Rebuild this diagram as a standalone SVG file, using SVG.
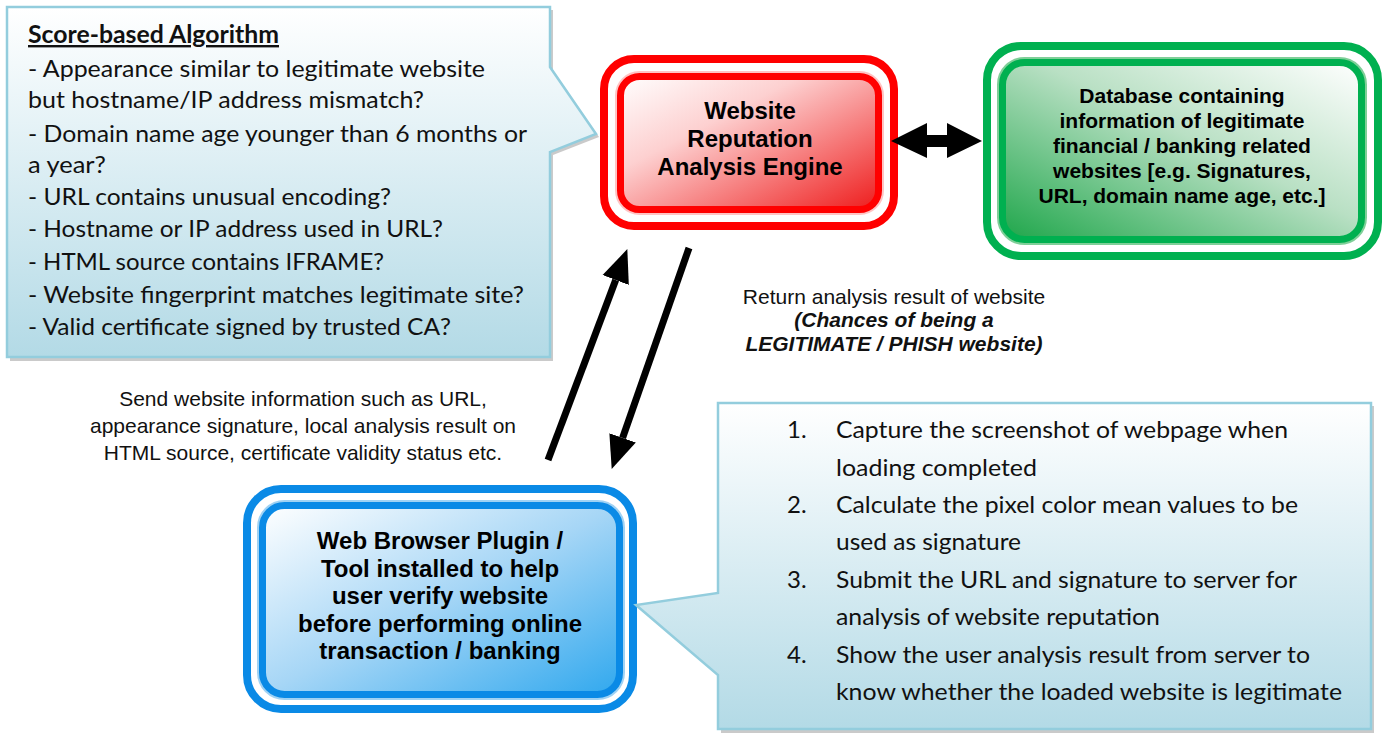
<svg xmlns="http://www.w3.org/2000/svg" width="1388" height="733" viewBox="0 0 1388 733">
<style>
.call{font-family:Lato,"Open Sans",sans-serif;font-size:24px;fill:#111}
.node{font-family:"Liberation Sans",Arial,sans-serif;font-weight:bold;fill:#000;text-anchor:middle}
.lbl{font-family:"Liberation Sans",Arial,sans-serif;font-size:21px;fill:#111;text-anchor:middle}
.bi{font-weight:bold;font-style:italic}
.cbox{stroke:#93cddd;stroke-width:2.5}
.shadow{fill:#8a8a8a;opacity:0.45}
</style>
<defs>
<linearGradient id="gCall" x1="0" y1="0" x2="0" y2="1">
<stop offset="0" stop-color="#ffffff"/><stop offset="1" stop-color="#b3dae6"/>
</linearGradient>
<linearGradient id="gRed" x1="0" y1="0" x2="1" y2="1">
<stop offset="0" stop-color="#ffffff"/><stop offset="0.35" stop-color="#fdd0d0"/><stop offset="1" stop-color="#ee1c1c"/>
</linearGradient>
<linearGradient id="gGreen" x1="0" y1="1" x2="1" y2="0">
<stop offset="0" stop-color="#1ea64a"/><stop offset="0.55" stop-color="#b9e0c4"/><stop offset="1" stop-color="#ffffff"/>
</linearGradient>
<linearGradient id="gBlue" x1="0" y1="0" x2="1" y2="1">
<stop offset="0" stop-color="#ffffff"/><stop offset="0.5" stop-color="#a6d6f6"/><stop offset="1" stop-color="#30a8ee"/>
</linearGradient>
<marker id="ah" markerUnits="userSpaceOnUse" markerWidth="34" markerHeight="30" refX="0" refY="15" orient="auto">
<path d="M0,1 L33,15 L0,29 z" fill="#000"/>
</marker>
</defs>

<g id="score-callout">
<path class="shadow" d="M10,10 H553 V71 L599,137 L553,155 V361 H10 Z"/>
<path class="cbox" fill="url(#gCall)" d="M7,7 H550 V67 L596,134 L550,152 V357 H7 Z"/>
<text class="call" x="28" y="43" font-weight="bold" text-decoration="underline" textLength="251" lengthAdjust="spacingAndGlyphs">Score-based Algorithm</text>
<text class="call" x="28" y="77" textLength="457" lengthAdjust="spacingAndGlyphs">- Appearance similar to legitimate website</text>
<text class="call" x="28" y="108" textLength="396" lengthAdjust="spacingAndGlyphs">but hostname/IP address mismatch?</text>
<text class="call" x="28" y="142" textLength="499" lengthAdjust="spacingAndGlyphs">- Domain name age younger than 6 months or</text>
<text class="call" x="28" y="173" textLength="78" lengthAdjust="spacingAndGlyphs">a year?</text>
<text class="call" x="28" y="205" textLength="363" lengthAdjust="spacingAndGlyphs">- URL contains unusual encoding?</text>
<text class="call" x="28" y="237" textLength="415" lengthAdjust="spacingAndGlyphs">- Hostname or IP address used in URL?</text>
<text class="call" x="28" y="270" textLength="356" lengthAdjust="spacingAndGlyphs">- HTML source contains IFRAME?</text>
<text class="call" x="28" y="303" textLength="496" lengthAdjust="spacingAndGlyphs">- Website fingerprint matches legitimate site?</text>
<text class="call" x="28" y="335" textLength="423" lengthAdjust="spacingAndGlyphs">- Valid certificate signed by trusted CA?</text>
</g>

<g id="engine">
<rect x="604" y="59" width="290" height="167" rx="30" fill="#fff" stroke="#ff0000" stroke-width="8"/>
<rect x="620.5" y="76.5" width="258" height="133" rx="19" fill="url(#gRed)" stroke="#ffc4c4" stroke-width="11"/>
<rect x="620.5" y="76.5" width="258" height="133" rx="19" fill="url(#gRed)" stroke="#ff0000" stroke-width="7"/>
<text class="node" font-size="24" x="750" y="119">Website</text>
<text class="node" font-size="24" x="750" y="147">Reputation</text>
<text class="node" font-size="24" x="750" y="175">Analysis Engine</text>
</g>

<g id="database">
<rect x="987" y="46" width="391" height="210" rx="34" fill="#fff" stroke="#00b050" stroke-width="8"/>
<rect x="1002.5" y="62.5" width="359" height="177" rx="22" fill="url(#gGreen)" stroke="#7fcf98" stroke-width="11"/>
<rect x="1002.5" y="62.5" width="359" height="177" rx="22" fill="url(#gGreen)" stroke="#00b050" stroke-width="7"/>
<text class="node" font-size="21" x="1182" y="103">Database containing</text>
<text class="node" font-size="21" x="1182" y="128">information of legitimate</text>
<text class="node" font-size="21" x="1182" y="153">financial / banking related</text>
<text class="node" font-size="21" x="1182" y="178">websites [e.g. Signatures,</text>
<text class="node" font-size="21" x="1182" y="203">URL, domain name age, etc.]</text>
</g>

<g id="plugin">
<rect x="247" y="489" width="386" height="220" rx="34" fill="#fff" stroke="#0a8ae6" stroke-width="8"/>
<rect x="262.5" y="505.5" width="357" height="189" rx="22" fill="url(#gBlue)" stroke="#9fd2f4" stroke-width="11"/>
<rect x="262.5" y="505.5" width="357" height="189" rx="22" fill="url(#gBlue)" stroke="#0a8ae6" stroke-width="7"/>
<text class="node" font-size="24" x="440" y="549">Web Browser Plugin /</text>
<text class="node" font-size="24" x="440" y="576.5">Tool installed to help</text>
<text class="node" font-size="24" x="440" y="604">user verify website</text>
<text class="node" font-size="24" x="440" y="631.5">before performing online</text>
<text class="node" font-size="24" x="440" y="659">transaction / banking</text>
</g>

<g id="steps-callout">
<path class="shadow" d="M721,406 H1374 V733 H721 V678 L639,608 L721,596 Z"/>
<path class="cbox" fill="url(#gCall)" d="M718,403 H1371 V729 H718 V675 L636,605 L718,593 Z"/>
<text class="call" x="787" y="438">1.</text>
<text class="call" x="836" y="438" textLength="452" lengthAdjust="spacingAndGlyphs">Capture the screenshot of webpage when</text>
<text class="call" x="836" y="476" textLength="201" lengthAdjust="spacingAndGlyphs">loading completed</text>
<text class="call" x="787" y="513">2.</text>
<text class="call" x="836" y="513" textLength="462" lengthAdjust="spacingAndGlyphs">Calculate the pixel color mean values to be</text>
<text class="call" x="836" y="550" textLength="185" lengthAdjust="spacingAndGlyphs">used as signature</text>
<text class="call" x="787" y="588">3.</text>
<text class="call" x="836" y="588" textLength="461" lengthAdjust="spacingAndGlyphs">Submit the URL and signature to server for</text>
<text class="call" x="836" y="625" textLength="324" lengthAdjust="spacingAndGlyphs">analysis of website reputation</text>
<text class="call" x="787" y="663">4.</text>
<text class="call" x="836" y="663" textLength="474" lengthAdjust="spacingAndGlyphs">Show the user analysis result from server to</text>
<text class="call" x="836" y="700" textLength="506" lengthAdjust="spacingAndGlyphs">know whether the loaded website is legitimate</text>
</g>

<g id="connectors">
<polygon points="891,141 927,123 927,135 947,135 947,123 982,141 947,158 947,147 927,147 927,158" fill="#000"/>
<line x1="548" y1="460" x2="615.7" y2="280" stroke="#000" stroke-width="7" marker-end="url(#ah)"/>
<line x1="689" y1="248" x2="622.6" y2="437.8" stroke="#000" stroke-width="7" marker-end="url(#ah)"/>
</g>

<g id="labels">
<text class="lbl" x="303" y="406">Send website information such as URL,</text>
<text class="lbl" x="303" y="433">appearance signature, local analysis result on</text>
<text class="lbl" x="303" y="460">HTML source, certificate validity status etc.</text>
<text class="lbl" x="894" y="303.5">Return analysis result of website</text>
<text class="lbl bi" x="894" y="327">(Chances of being a</text>
<text class="lbl bi" x="894" y="351">LEGITIMATE / PHISH website)</text>
</g>
</svg>
